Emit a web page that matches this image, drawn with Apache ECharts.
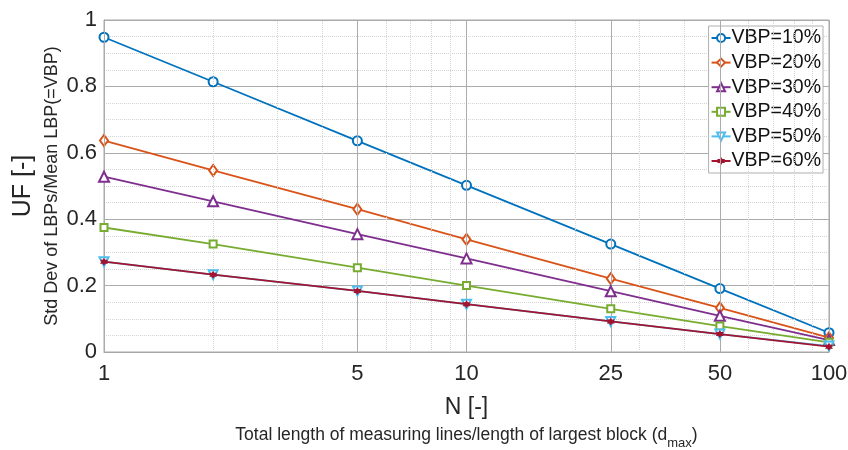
<!DOCTYPE html>
<html>
<head>
<meta charset="utf-8">
<script src="https://cdn.jsdelivr.net/npm/echarts@6/dist/echarts.min.js"></script>
<style>html,body{margin:0;padding:0;background:#fff;}#c{width:848px;height:450px;}</style>
</head>
<body>
<div id="c"></div>
<script>
const xValues = [1, 2, 5, 10, 25, 50, 100];
const vbp10 = [0.948, 0.814, 0.636, 0.502, 0.325, 0.191, 0.058];
const vbp20 = [0.637, 0.547, 0.430, 0.339, 0.221, 0.133, 0.043];
const vbp30 = [0.528, 0.454, 0.355, 0.282, 0.183, 0.109, 0.036];
const vbp40 = [0.375, 0.325, 0.254, 0.200, 0.130, 0.078, 0.029];
const vbp50 = [0.272, 0.233, 0.184, 0.144, 0.092, 0.054, 0.018];
const vbp60 = [0.272, 0.233, 0.184, 0.144, 0.092, 0.054, 0.016];
const seriesNames = ['VBP=10%', 'VBP=20%', 'VBP=30%', 'VBP=40%', 'VBP=50%', 'VBP=60%'];
const xTickLabels = [1, 5, 10, 25, 50, 100];
const xMinorGrid = [2, 3, 4, 6, 7, 8, 9, 20, 30, 40, 60, 70, 80, 90];

const colors = ['#0072BD', '#D95319', '#7E2F8E', '#77AC30', '#4DBEEE', '#A2142F'];
const hexagram = 'path://M0,-10 L2.9,-5 L8.66,-5 L5.77,0 L8.66,5 L2.9,5 L0,10 L-2.9,5 L-8.66,5 L-5.77,0 L-8.66,-5 L-2.9,-5 Z';
const symbols = ['emptyCircle', 'emptyDiamond', 'emptyTriangle', 'emptyRect', 'emptyTriangle', hexagram];
const symbolSizes = [9, [8, 11], 10, 7, 9, 8];
const symbolRotates = [0, 0, 0, 0, 180, 0];
const allData = [vbp10, vbp20, vbp30, vbp40, vbp50, vbp60];

const chart = echarts.init(document.getElementById('c'));
const FONT = 'Liberation Sans, Arial, sans-serif';

const series = allData.map((vals, i) => ({
  name: seriesNames[i],
  type: 'line',
  data: xValues.map((x, j) => [x, vals[j]]),
  symbol: symbols[i],
  symbolSize: symbolSizes[i],
  symbolRotate: symbolRotates[i],
  showAllSymbol: true,
  lineStyle: { color: colors[i], width: 1.8 },
  itemStyle: { color: colors[i], borderWidth: 1.4 },
  emphasis: { disabled: true },
  z: 3 + i
}));

series.unshift({
  name: 'grid',
  type: 'line',
  data: [],
  silent: true,
  z: 1,
  markLine: {
    silent: true,
    symbol: 'none',
    animation: false,
    label: { show: false },
    data: xTickLabels.map(v => ({ xAxis: v, lineStyle: { color: '#ababab', type: 'solid', width: 1 } }))
      .concat(xMinorGrid.map(v => ({ xAxis: v, lineStyle: { color: '#d4d4d4', type: [1, 1], width: 1 } })))
  }
});

chart.setOption({
  animation: false,
  backgroundColor: '#fff',
  textStyle: { fontFamily: FONT },
  grid: { left: 104, right: 19, top: 20, bottom: 98, show: true, borderColor: '#a6a6a6', borderWidth: 1, containLabel: false, outerBoundsMode: 'none' },
  legend: {
    data: seriesNames,
    orient: 'vertical',
    right: 25,
    top: 26,
    itemWidth: 19,
    itemHeight: 10,
    itemGap: 4.6,
    padding: [2, 2, 2, 2],
    backgroundColor: '#fff',
    borderColor: '#b0b0b0',
    borderWidth: 1,
    borderRadius: 0,
    textStyle: { fontSize: 19.5, color: '#111', fontFamily: FONT, padding: [0, 0, 0, -4] }
  },
  xAxis: {
    type: 'log',
    logBase: 10,
    min: 1,
    max: 100,
    axisLine: { show: true, lineStyle: { color: '#a6a6a6' } },
    axisTick: { show: false },
    splitLine: { show: false },
    axisLabel: { customValues: xTickLabels, fontSize: 22, color: '#262626', margin: 11, fontFamily: FONT },
    name: '{n|N [-]}\n{t|Total length of measuring lines/length of largest block (d}{s|max}{t|)}',
    nameLocation: 'middle',
    nameGap: 38,
    nameMoveOverlap: false,
    nameTextStyle: {
      rich: {
        n: { fontSize: 23, color: '#262626', lineHeight: 36, fontFamily: FONT },
        t: { fontSize: 17.5, color: '#262626', lineHeight: 22, fontFamily: FONT, verticalAlign: 'top' },
        s: { fontSize: 13, color: '#262626', lineHeight: 22, fontFamily: FONT, verticalAlign: 'top', padding: [11, 0, 0, 0] }
      }
    }
  },
  yAxis: {
    type: 'value',
    min: 0,
    max: 1,
    interval: 0.2,
    axisLine: { show: true, lineStyle: { color: '#a6a6a6' } },
    axisTick: { show: false },
    axisLabel: { fontSize: 22, color: '#262626', margin: 7, fontFamily: FONT },
    splitLine: { show: true, lineStyle: { color: '#ababab', width: 1 } },
    minorTick: { show: false, splitNumber: 4 },
    minorSplitLine: { show: true, lineStyle: { color: '#d4d4d4', type: [1, 1], width: 1 } },
    name: '{a|UF [-]}\n{b|Std Dev of LBPs/Mean LBP(=VBP)}',
    nameLocation: 'middle',
    nameGap: 39,
    nameMoveOverlap: false,
    nameRotate: 90,
    nameTextStyle: {
      rich: {
        a: { fontSize: 25, color: '#262626', lineHeight: 32, fontFamily: FONT },
        b: { fontSize: 18, color: '#262626', lineHeight: 26, fontFamily: FONT }
      }
    }
  },
  series: series
});
</script>
</body>
</html>
